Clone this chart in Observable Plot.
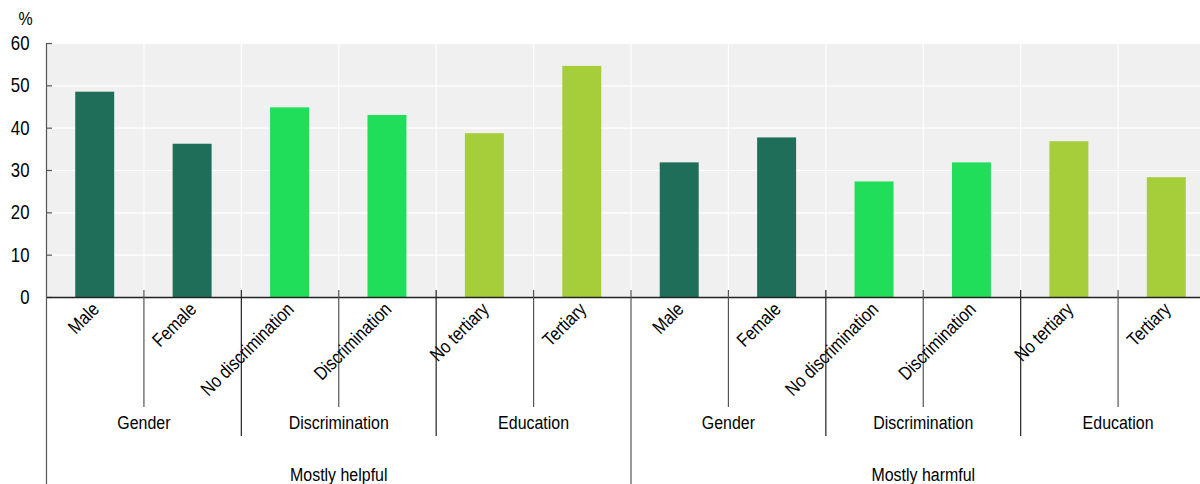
<!DOCTYPE html>
<html>
<head>
<meta charset="utf-8">
<script src="https://cdn.jsdelivr.net/npm/d3@7"></script>
<script src="https://cdn.jsdelivr.net/npm/@observablehq/plot@0.6"></script>
<style>
  html, body { margin: 0; padding: 0; background: #fff; overflow: hidden; }
  #chart svg { display: block; }
</style>
</head>
<body>
<div id="chart"></div>
<script>
// ---- data ----
const panels = ["Mostly helpful", "Mostly harmful"];
const groups = ["Gender", "Discrimination", "Education"];
const categories = ["Male", "Female", "No discrimination", "Discrimination", "No tertiary", "Tertiary"];
const helpful = [48.5, 36.2, 44.8, 43.0, 38.7, 54.6];
const harmful = [31.8, 37.7, 27.3, 31.8, 36.8, 28.3];
const groupColors = ["#1f6e5a", "#21de5a", "#a6cd3a"];
const yTicks = [0, 10, 20, 30, 40, 50, 60];

// ---- table ----
const series = [helpful, harmful];
const rows = [];
panels.forEach((p, pi) => {
  categories.forEach((c, ci) => {
    rows.push({
      key: p + "|" + c,
      panel: p,
      label: c,
      group: groups[Math.floor(ci / 2)],
      idx: ci,
      value: series[pi][ci]
    });
  });
});
const keys = rows.map(d => d.key);

const W = 1200, H = 484;
const mLeft = 46, mTop = 43, mBottom = 187;
const xRange = [46, 1215];
const step = (xRange[1] - xRange[0]) / keys.length;
const plotH = H - mTop - mBottom;

const catSep = rows.filter(d => d.idx % 2 === 1);
const grpSep = rows.filter(d => d.idx === 2 || d.idx === 4);
const panelSep = rows.filter(d => d.idx === 0);
const innerBounds = rows.filter((d, i) => i > 0);
const groupLabels = rows.filter(d => d.idx % 2 === 0);
const panelLabels = rows.filter(d => d.idx === 2);

const FONT = "'Liberation Sans', Arial, sans-serif";
const FS = 19;
const NARROW = 0.84;

const chart = Plot.plot({
  width: W,
  height: H,
  marginLeft: mLeft,
  marginRight: 0,
  marginTop: mTop,
  marginBottom: mBottom,
  style: { fontFamily: FONT, fontSize: FS + "px", color: "#000", background: "#fff" },
  x: { type: "band", domain: keys, range: xRange, paddingInner: 0.6, paddingOuter: 0.3, round: false, axis: null },
  y: { domain: [0, 60], axis: null },
  color: { domain: groups, range: groupColors },
  marks: [
    Plot.frame({ fill: "#f0f0f0", stroke: null }),
    Plot.ruleY(yTicks.filter(t => t > 0), { stroke: "#fff", strokeWidth: 1.2 }),
    Plot.ruleX(innerBounds, { x: "key", dx: -step / 2, stroke: "#fff", strokeWidth: 1.2 }),
    Plot.barY(rows, { x: "key", y: "value", fill: "group" }),
    Plot.ruleY(yTicks, { stroke: "#555", strokeWidth: 1.2, insetRight: (W - mLeft) - 6 }),
    Plot.axisY({ ticks: yTicks, tickSize: 0, tickPadding: 17, label: null, fontSize: 20, fill: "#000" }),
    Plot.ruleY([0], { stroke: "#222", strokeWidth: 1.5 }),
    // left axis + top-level separators
    Plot.ruleX(panelSep.slice(0, 1), { x: "key", dx: -step / 2, stroke: "#555", strokeWidth: 1.2, insetBottom: -(H - mTop - plotH) }),
    Plot.ruleX(panelSep.slice(1), { x: "key", dx: -step / 2, stroke: "#555", strokeWidth: 1.2, insetTop: plotH - 7, insetBottom: -(H - mTop - plotH) }),
    // category separators
    Plot.ruleX(catSep, { x: "key", dx: -step / 2, stroke: "#555", strokeWidth: 1.2, insetTop: plotH - 7, insetBottom: -110 }),
    // group separators
    Plot.ruleX(grpSep, { x: "key", dx: -step / 2, stroke: "#222", strokeWidth: 1.2, insetTop: plotH - 7, insetBottom: -139 }),
    // rotated category labels
    Plot.text(rows, { x: "key", text: "label", frameAnchor: "bottom", rotate: -45, textAnchor: "end", dx: 5, dy: 13, fontSize: FS, fill: "#000" }),
    // group labels
    Plot.text(groupLabels, { x: "key", text: "group", frameAnchor: "bottom", dx: step / 2, dy: 131, fontSize: FS, fill: "#000" }),
    // panel labels
    Plot.text(panelLabels, { x: "key", text: "panel", frameAnchor: "bottom", dx: step / 2, dy: 183, fontSize: FS, fill: "#000" }),
    // unit label
    Plot.text(["%"], { frameAnchor: "top-left", text: d => d, textAnchor: "middle", lineAnchor: "middle", dx: -21, dy: -25, fontSize: FS, fill: "#000" })
  ]
});
document.getElementById("chart").appendChild(chart);

// condense glyphs horizontally (in each text's own frame) to mimic a narrow face
function toPx(v, el) {
  if (v == null) return 0;
  const n = parseFloat(v);
  if (isNaN(n)) return 0;
  if (/em$/.test(v.trim())) return n * parseFloat(getComputedStyle(el).fontSize);
  return n;
}
chart.querySelectorAll("text").forEach(t => {
  const tx = toPx(t.getAttribute("x"), t);
  const ty = toPx(t.getAttribute("y"), t);
  const tr = t.getAttribute("transform") || "";
  t.removeAttribute("x");
  t.removeAttribute("y");
  t.setAttribute("transform", `${tr} translate(${tx},${ty}) scale(${NARROW},1)`);
});
</script>
</body>
</html>
